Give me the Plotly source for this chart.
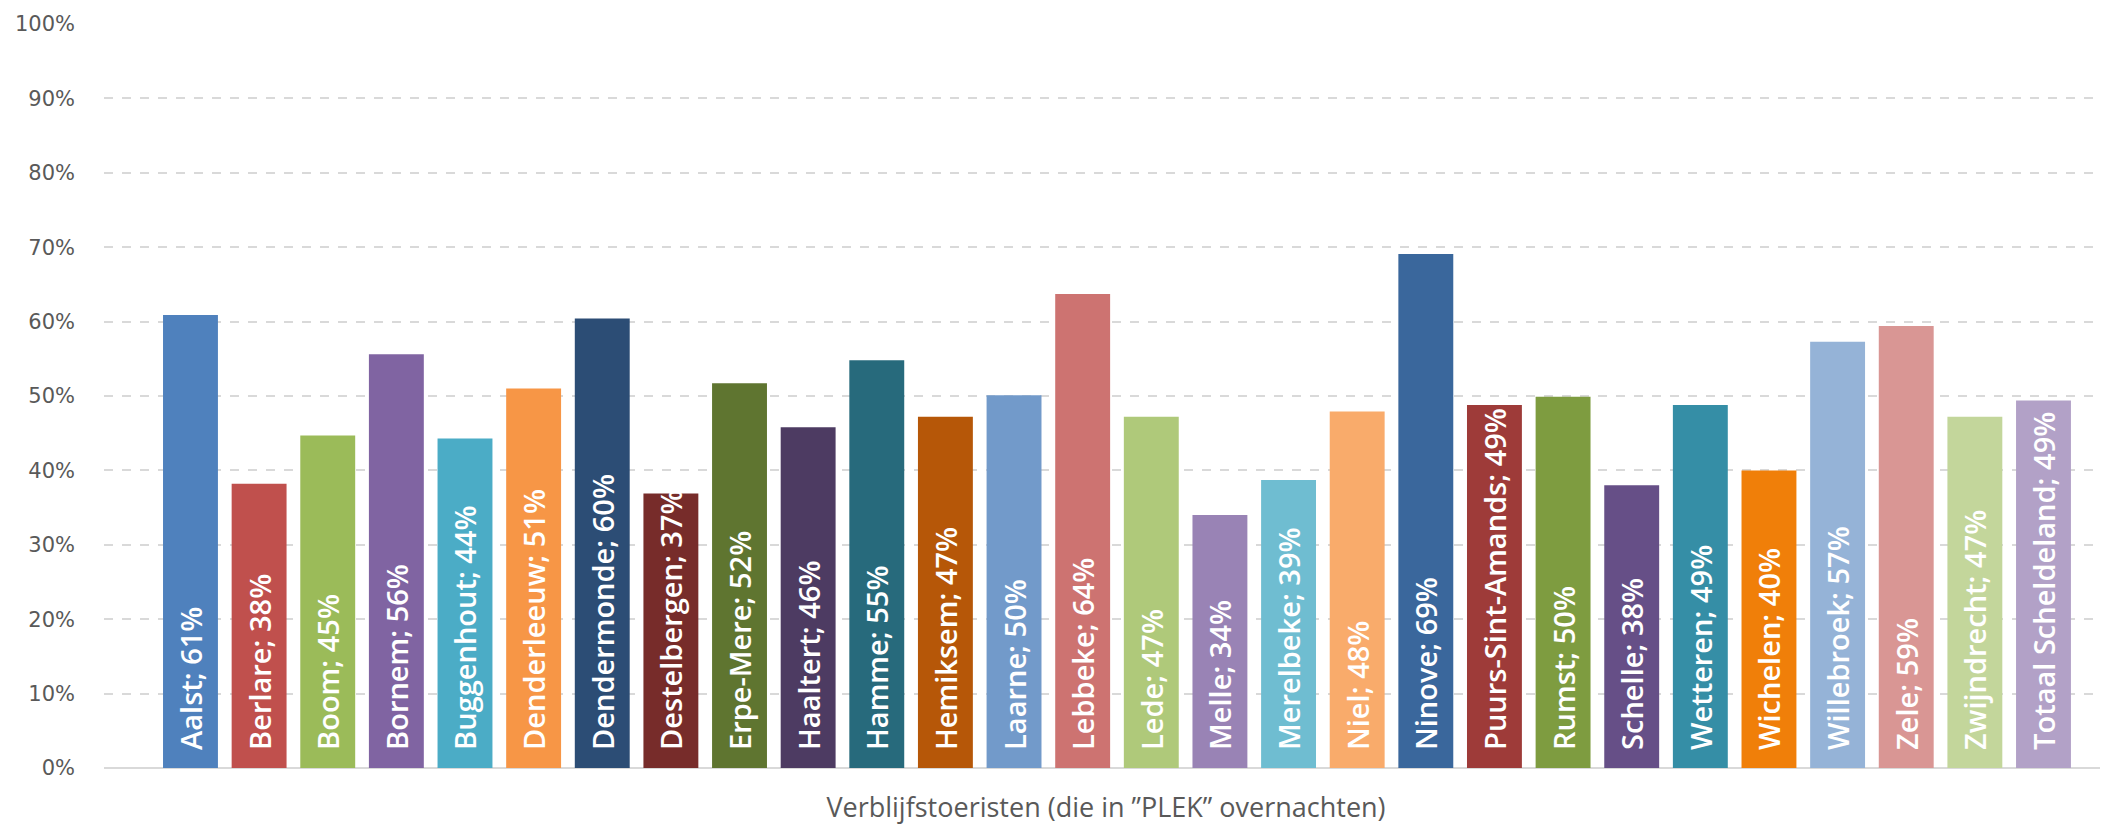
import plotly.graph_objects as go

categories = ["Aalst", "Berlare", "Boom", "Bornem", "Buggenhout", "Denderleeuw", "Dendermonde",
              "Destelbergen", "Erpe-Mere", "Haaltert", "Hamme", "Hemiksem", "Laarne", "Lebbeke",
              "Lede", "Melle", "Merelbeke", "Niel", "Ninove", "Puurs-Sint-Amands", "Rumst",
              "Schelle", "Wetteren", "Wichelen", "Willebroek", "Zele", "Zwijndrecht",
              "Totaal Scheldeland"]
values = [0.609, 0.382, 0.447, 0.556, 0.443, 0.510, 0.604, 0.369, 0.517, 0.458, 0.548, 0.472,
          0.501, 0.637, 0.472, 0.340, 0.387, 0.479, 0.691, 0.488, 0.499, 0.380, 0.488, 0.400,
          0.573, 0.594, 0.472, 0.494]
colors = ["#4F81BD", "#C0504D", "#9BBB59", "#8064A2", "#4BACC6", "#F79646", "#2C4D75",
          "#772C2A", "#5F7530", "#4D3B62", "#276A7C", "#B65708", "#729ACA", "#CD7371",
          "#AFC97A", "#9983B5", "#6FBDD1", "#F9AB6B", "#3A679C", "#9E3B39", "#7E9C40",
          "#664F87", "#358EA6", "#F07F09", "#95B3D7", "#D99694", "#C3D69B", "#B2A1C7"]
tick_vals = [0, 0.1, 0.2, 0.3, 0.4, 0.5, 0.6, 0.7, 0.8, 0.9, 1.0]
tick_text = ["0%", "10%", "20%", "30%", "40%", "50%", "60%", "70%", "80%", "90%", "100%"]
x_title = "Verblijfstoeristen (die in ”PLEK” overnachten)"

labels = ["\u00a0\u00a0" + f"{c}; {round(v * 100):.0f}%" for c, v in zip(categories, values)]

fig = go.Figure()
fig.add_trace(go.Bar(
    x=categories,
    y=values,
    marker=dict(color=colors, line=dict(width=0)),
    text=labels,
    textposition="inside",
    insidetextanchor="start",
    textangle=-90,
    constraintext="none",
    textfont=dict(family="Open Sans, sans-serif", size=29, color="white", weight=600),
    cliponaxis=False,
    hoverinfo="skip",
))

fig.update_layout(
    width=2100, height=818,
    margin=dict(l=96, r=0, t=16, b=58),
    paper_bgcolor="white",
    plot_bgcolor="white",
    bargap=0.2,
    showlegend=False,
    xaxis=dict(
        showticklabels=False,
        showgrid=False,
        zeroline=False,
        showline=False,
        range=[-1.26, 27.94],
        title=dict(text=x_title, font=dict(family="Open Sans, sans-serif", size=27, color="#595959"),
                   standoff=30),
        ticks="",
    ),
    yaxis=dict(
        range=[0, 1.0],
        tickvals=tick_vals,
        ticktext=tick_text,
        tickfont=dict(family="DejaVu Sans, sans-serif", size=21, color="#595959"),
        showgrid=True,
        gridcolor="#D9D9D9",
        griddash="dash",
        gridwidth=1.5,
        zeroline=True,
        zerolinecolor="#D9D9D9",
        zerolinewidth=2,
        ticks="",
        ticklabelstandoff=28,
    ),
)

fig.write_html("out.html")
